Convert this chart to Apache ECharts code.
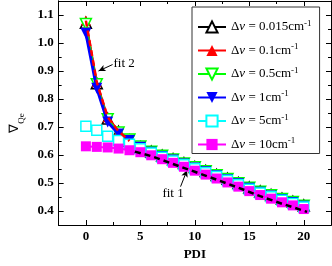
<!DOCTYPE html>
<html><head><meta charset="utf-8">
<script src="https://cdn.jsdelivr.net/npm/echarts@6/dist/echarts.min.js"></script>
<style>html,body{margin:0;padding:0;background:#fff}#c{width:332px;height:266px}</style>
</head><body><div id="c"></div>
<script>
const pdi = [0,1,2,3,4,5,6,7,8,9,10,11,12,13,14,15,16,17,18,19,20];
const names = ['0.015','0.1','0.5','1','5','10'];
const v0015 = [1.072,0.856,0.730,0.683,0.652,0.628,0.612,0.598,0.585,0.571,0.557,0.543,0.529,0.515,0.500,0.484,0.470,0.457,0.444,0.433,0.420];
const v01   = [1.080,0.860,0.735,0.685,0.650,0.628,0.613,0.601,0.588,0.574,0.560,0.546,0.532,0.518,0.503,0.487,0.473,0.460,0.447,0.436,0.423];
const v05   = [1.068,0.853,0.728,0.680,0.655,0.630,0.612,0.597,0.584,0.570,0.556,0.542,0.528,0.514,0.499,0.483,0.469,0.456,0.443,0.432,0.419];
const v1    = [1.035,0.838,0.718,0.675,0.652,0.628,0.610,0.595,0.582,0.568,0.554,0.540,0.526,0.512,0.497,0.481,0.467,0.454,0.441,0.430,0.417];
const v5    = [0.703,0.688,0.667,0.652,0.638,0.622,0.607,0.592,0.579,0.565,0.551,0.537,0.523,0.509,0.494,0.478,0.464,0.451,0.438,0.427,0.414];
const v10   = [0.631,0.629,0.627,0.623,0.617,0.610,0.599,0.585,0.572,0.558,0.544,0.530,0.516,0.502,0.487,0.471,0.457,0.444,0.431,0.420,0.407];
const fit1X = [4.5,6,8,10,12,14,16,18,20.3];
const fit1Y = [0.612,0.596,0.568,0.540,0.512,0.483,0.453,0.426,0.397];
const fit2X = [0,1,2,3,4];
const fit2Y = [1.080,0.860,0.735,0.685,0.650];
const xTicks = [0,5,10,15,20];
const xMinor = [2.5,7.5,12.5,17.5];
const yTicks = [0.4,0.5,0.6,0.7,0.8,0.9,1.0,1.1];
const yMinor = [0.45,0.55,0.65,0.75,0.85,0.95,1.05];
const fit2Arrow = [[2.45,0.923],[1.16,0.900]];
const fit1Arrow = [[8.69,0.487],[9.29,0.546]];
const fit2Text = [3.51,0.928];
const fit1Text = [8.0,0.462];

const FONT = "'Liberation Serif','Times New Roman',serif";
const zip = (xs, ys) => xs.map((x,i)=>[x, ys[i]]);

const chart = echarts.init(document.getElementById('c'), null, {renderer:'canvas'});

function xAx(pos, ticks, len, labels, extra) {
  return Object.assign({
    type:'value', min:-2.5, max:22.5, position:pos,
    axisLine:{show:true, onZero:false, lineStyle:{color:'#000', width:1}},
    axisTick:{show:true, inside:true, length:len, customValues:ticks, lineStyle:{color:'#000', width:1}},
    axisLabel:{show:labels, customValues:ticks, color:'#000', fontFamily:FONT, fontWeight:'bold', fontSize:13, margin:5},
    splitLine:{show:false}
  }, extra||{});
}
function yAx(pos, ticks, len, labels, extra) {
  return Object.assign({
    type:'value', min:0.35, max:1.15, position:pos,
    axisLine:{show:true, onZero:false, lineStyle:{color:'#000', width:1}},
    axisTick:{show:true, inside:true, length:len, customValues:ticks, lineStyle:{color:'#000', width:1}},
    axisLabel:{show:labels, customValues:ticks, color:'#000', fontFamily:FONT, fontWeight:'bold', fontSize:13, margin:5,
      formatter: v => v.toFixed(1)},
    splitLine:{show:false}
  }, extra||{});
}

const styles = [
  {color:'#000000', symbol:'triangle', rot:0, open:true, size:11, lw:2},
  {color:'#ff0000', symbol:'triangle', rot:0, open:false, size:10, lw:2},
  {color:'#00ff00', symbol:'triangle', rot:180, open:true, size:11, lw:2},
  {color:'#0000ff', symbol:'triangle', rot:180, open:false, size:11, lw:3},
  {color:'#00ffff', symbol:'rect', rot:0, open:true, size:10, lw:2},
  {color:'#ff00ff', symbol:'rect', rot:0, open:false, size:10, lw:2}
];
const vals = [v0015, v01, v05, v1, v5, v10];

const series = names.map((n,i)=>{
  const s = styles[i];
  return {
    name:n, type:'line', xAxisIndex:0, yAxisIndex:0,
    data: zip(pdi, vals[i]),
    symbol:s.symbol, symbolRotate:s.rot, symbolSize:s.size, showAllSymbol:true,
    lineStyle:{color:s.color, width:s.lw},
    itemStyle:{color: s.open ? '#ffffff' : s.color, borderColor:s.color, borderWidth: s.open?1.5:0},
    emphasis:{disabled:true}, animation:false, z:2+i
  };
});

series.push({
  name:'fit1', type:'line', xAxisIndex:0, yAxisIndex:0, data: zip(fit1X, fit1Y),
  symbol:'none', lineStyle:{color:'#000', width:2.5, type:[6,4]}, z:20, animation:false,
  markLine:{silent:true, symbol:['none','arrow'], symbolSize:[5,7], animation:false,
    lineStyle:{color:'#000', width:1, type:'solid'}, label:{show:false},
    data:[[{coord:fit2Arrow[0]},{coord:fit2Arrow[1]}],[{coord:fit1Arrow[0]},{coord:fit1Arrow[1]}]]},
  markPoint:{silent:true, symbol:'circle', symbolSize:1, itemStyle:{color:'rgba(0,0,0,0)'}, animation:false,
    label:{show:true, position:'inside', formatter:p=>p.name, color:'#000', fontFamily:FONT, fontSize:13},
    data:[{name:'fit 2', coord:fit2Text},{name:'fit 1', coord:fit1Text}]}
});
series.push({
  name:'fit2', type:'line', xAxisIndex:0, yAxisIndex:0, data: zip(fit2X, fit2Y),
  symbol:'none', lineStyle:{color:'#ff0000', width:2.5, type:[6,4]}, z:21, animation:false
});

chart.setOption({
  animation:false,
  backgroundColor:'#fff',
  grid:{left:51, right:1, top:1, bottom:39, containLabel:false},
  xAxis:[
    xAx('bottom', xTicks, 5, true, {name:'PDI', nameLocation:'middle', nameGap:23,
      nameTextStyle:{color:'#000', fontFamily:FONT, fontWeight:'bold', fontSize:13}}),
    xAx('bottom', xMinor, 3, false),
    xAx('top', xTicks, 5, false),
    xAx('top', xMinor, 3, false)
  ],
  yAxis:[
    yAx('left', yTicks, 5, true, {name:'{n|∇}{s|Qe}', nameLocation:'middle', nameRotate:90, nameGap:32,
      nameTextStyle:{color:'#000', fontFamily:FONT, padding:[0,20,0,0], rich:{
        n:{fontFamily:FONT, fontSize:13, color:'#000', lineHeight:16},
        s:{fontFamily:FONT, fontSize:9, color:'#000', verticalAlign:'bottom', lineHeight:16, padding:[0,0,-4,0]}}}}),
    yAx('left', yMinor, 3, false),
    yAx('right', yTicks, 5, false),
    yAx('right', yMinor, 3, false)
  ],
  legend:{
    data:names, orient:'vertical', left:192, top:7, width:131,
    padding:[12,8,2,5], itemGap:8.5, itemWidth:28, itemHeight:14,
    backgroundColor:'#fff', borderColor:'#333', borderWidth:1, borderRadius:0,
    selectedMode:false,
    formatter: n => '{d|Δ}{v|ν}{d| = ' + n + 'cm}{s|-1}',
    textStyle:{color:'#000', fontFamily:FONT, fontSize:13, rich:{
      d:{fontFamily:FONT, fontSize:13, color:'#000', lineHeight:16},
      v:{fontFamily:FONT, fontSize:13, fontStyle:'italic', color:'#000', lineHeight:16},
      s:{fontFamily:FONT, fontSize:9, color:'#000', verticalAlign:'top', lineHeight:16, padding:[0,0,6,0]}}}
  },
  series: series
});
</script>
</body></html>
